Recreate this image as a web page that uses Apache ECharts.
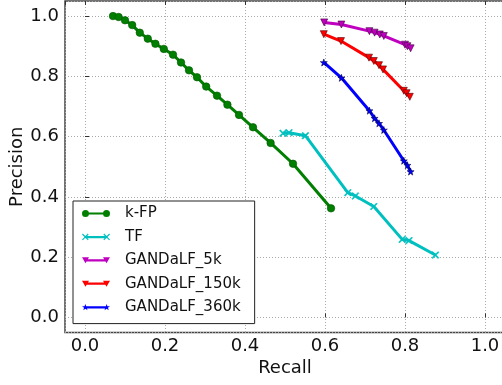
<!DOCTYPE html>
<html>
<head>
<meta charset="utf-8">
<script src="https://cdn.jsdelivr.net/npm/echarts@6/dist/echarts.min.js"></script>
<style>html,body{margin:0;padding:0;background:#fff;}#c{width:502px;height:385px;}</style>
</head>
<body>
<div id="c"></div>
<script>
var kfpRecall = [0.070,0.084,0.100,0.118,0.137,0.157,0.176,0.197,0.220,0.240,0.260,0.280,0.303,0.330,0.356,0.385,0.420,0.464,0.520,0.615];
var kfpPrecision = [1.000,0.997,0.986,0.970,0.945,0.925,0.908,0.891,0.872,0.846,0.820,0.797,0.766,0.736,0.706,0.672,0.631,0.579,0.510,0.362];
var tfRecall = [0.495,0.510,0.551,0.657,0.676,0.722,0.793,0.810,0.876];
var tfPrecision = [0.611,0.613,0.603,0.414,0.403,0.368,0.259,0.255,0.207];
var g5Recall = [0.598,0.641,0.711,0.724,0.737,0.747,0.800,0.806,0.814];
var g5Precision = [0.979,0.972,0.950,0.945,0.939,0.934,0.905,0.900,0.893];
var g150Recall = [0.597,0.640,0.710,0.722,0.735,0.745,0.797,0.804,0.812];
var g150Precision = [0.940,0.917,0.862,0.851,0.837,0.823,0.752,0.744,0.732];
var g360Recall = [0.597,0.641,0.711,0.724,0.735,0.747,0.797,0.806,0.814];
var g360Precision = [0.846,0.795,0.686,0.661,0.644,0.622,0.520,0.505,0.484];
var seriesNames = ['k-FP','TF','GANDaLF_5k','GANDaLF_150k','GANDaLF_360k'];
var seriesColors = ['#007f00','#00bfbf','#bf00bf','#ff0000','#0000ff'];
var xLabel = 'Recall', yLabel = 'Precision';

function zip(a,b){return a.map(function(v,i){return [v,b[i]];});}
var FONT = 'DejaVu Sans';
var xPath = 'path://M0,1.2L1.2,0L5,3.8L8.8,0L10,1.2L6.2,5L10,8.8L8.8,10L5,6.2L1.2,10L0,8.8L3.8,5Z';
var starPath = 'path://M5,0L6.18,3.45L9.76,3.45L6.9,5.6L7.94,9.05L5,7L2.06,9.05L3.1,5.6L0.24,3.45L3.82,3.45Z';

// legend icons: a short line with a marker at each end (28 x 7 box)
var bar = 'M3.5,2.4L24.5,2.4L24.5,4.6L3.5,4.6Z';
function circ(cx){return 'M'+(cx-3.5)+',3.5A3.5,3.5 0 1,1 '+(cx+3.5)+',3.5A3.5,3.5 0 1,1 '+(cx-3.5)+',3.5Z';}
function tri(cx){return 'M'+(cx-3.5)+',0.5L'+(cx+3.5)+',0.5L'+cx+',6.5Z';}
function cross(cx){var s=0.65,o=cx-3.25;return 'M'+(o)+','+(1.2*s)+'L'+(o+1.2*s)+',0L'+(o+5*s)+','+(3.8*s)+'L'+(o+8.8*s)+',0L'+(o+10*s)+','+(1.2*s)+'L'+(o+6.2*s)+','+(5*s)+'L'+(o+10*s)+','+(8.8*s)+'L'+(o+8.8*s)+','+(10*s)+'L'+(o+5*s)+','+(6.2*s)+'L'+(o+1.2*s)+','+(10*s)+'L'+(o)+','+(8.8*s)+'L'+(o+3.8*s)+','+(5*s)+'Z';}
function star(cx){var p=[[5,0],[6.18,3.45],[9.76,3.45],[6.9,5.6],[7.94,9.05],[5,7],[2.06,9.05],[3.1,5.6],[0.24,3.45],[3.82,3.45]];var s=0.7,o=cx-3.5;return p.map(function(q,i){return (i?'L':'M')+(o+q[0]*s).toFixed(2)+','+(q[1]*s).toFixed(2);}).join('')+'Z';}
var icons = [
  'path://' + bar + circ(3.5) + circ(24.5),
  'path://' + bar + cross(3.5) + cross(24.5),
  'path://' + bar + tri(3.5) + tri(24.5),
  'path://' + bar + tri(3.5) + tri(24.5),
  'path://' + bar + star(3.5) + star(24.5)
];

function mk(name, data, color, symbol, size, rot, edge){
  return {
    name: name, type: 'line', data: data,
    symbol: symbol, symbolSize: size, symbolRotate: rot || 0,
    showAllSymbol: true, animation: false,
    lineStyle: {color: color, width: 3},
    itemStyle: {color: color, borderColor: edge || color, borderWidth: 0.6},
    emphasis: {disabled: true}, z: 3
  };
}

var chart = echarts.init(document.getElementById('c'), null, {renderer: 'canvas'});
var axisCommon = {
  type: 'value', min: -0.05, max: 1.05, splitNumber: 5,
  axisLine: {show: false},
  axisTick: {show: true, inside: true, length: 4, lineStyle: {color: '#333'}},
  splitLine: {show: true, lineStyle: {color: '#aaa', type: [1, 2], width: 1}},
  axisLabel: {showMinLabel: false, showMaxLabel: false, fontFamily: FONT, fontSize: 18, color: '#111',
    formatter: function(v){return v.toFixed(1);}}
};
chart.setOption({
  animation: false,
  textStyle: {fontFamily: FONT},
  grid: {left: 65, top: 1, width: 440, height: 331.5, outerBoundsMode: 'none', containLabel: false,
    show: true, borderColor: '#444', borderWidth: 1.5, backgroundColor: 'transparent'},
  xAxis: [
    Object.assign({}, axisCommon, {position: 'bottom', name: xLabel, nameLocation: 'middle', nameGap: 27,
      nameMoveOverlap: false,
      nameTextStyle: {fontFamily: FONT, fontSize: 18, color: '#111'},
      axisLabel: Object.assign({}, axisCommon.axisLabel, {margin: 5})}),
    Object.assign({}, axisCommon, {position: 'top', axisLabel: {show: false}, splitLine: {show: false}})
  ],
  yAxis: [
    Object.assign({}, axisCommon, {name: yLabel, nameLocation: 'middle', nameGap: 39,
      nameMoveOverlap: false,
      nameTextStyle: {fontFamily: FONT, fontSize: 18, color: '#111'},
      axisLabel: Object.assign({}, axisCommon.axisLabel, {margin: 6})})
  ],
  legend: {
    orient: 'vertical', left: 73, top: 201,
    padding: [5, 14, 9, 9], itemGap: 8.4, itemWidth: 28, itemHeight: 7,
    backgroundColor: '#fff', borderColor: '#222', borderWidth: 1, borderRadius: 0,
    itemStyle: {borderWidth: 0},
    textStyle: {fontFamily: FONT, fontSize: 15, color: '#111', padding: [0, 0, 0, 10]},
    data: seriesNames.map(function(n, i){return {name: n, icon: icons[i], itemStyle: {color: seriesColors[i], borderWidth: 0}};})
  },
  series: [
    mk(seriesNames[0], zip(kfpRecall, kfpPrecision), seriesColors[0], 'circle', 7.5, 0, '#005500'),
    mk(seriesNames[1], zip(tfRecall, tfPrecision), seriesColors[1], xPath, 7, 0, seriesColors[1]),
    mk(seriesNames[2], zip(g5Recall, g5Precision), seriesColors[2], 'triangle', 7, 180, '#400040'),
    mk(seriesNames[3], zip(g150Recall, g150Precision), seriesColors[3], 'triangle', 7, 180, '#500000'),
    mk(seriesNames[4], zip(g360Recall, g360Precision), seriesColors[4], starPath, 7, 0, '#000050')
  ]
});
</script>
</body>
</html>
